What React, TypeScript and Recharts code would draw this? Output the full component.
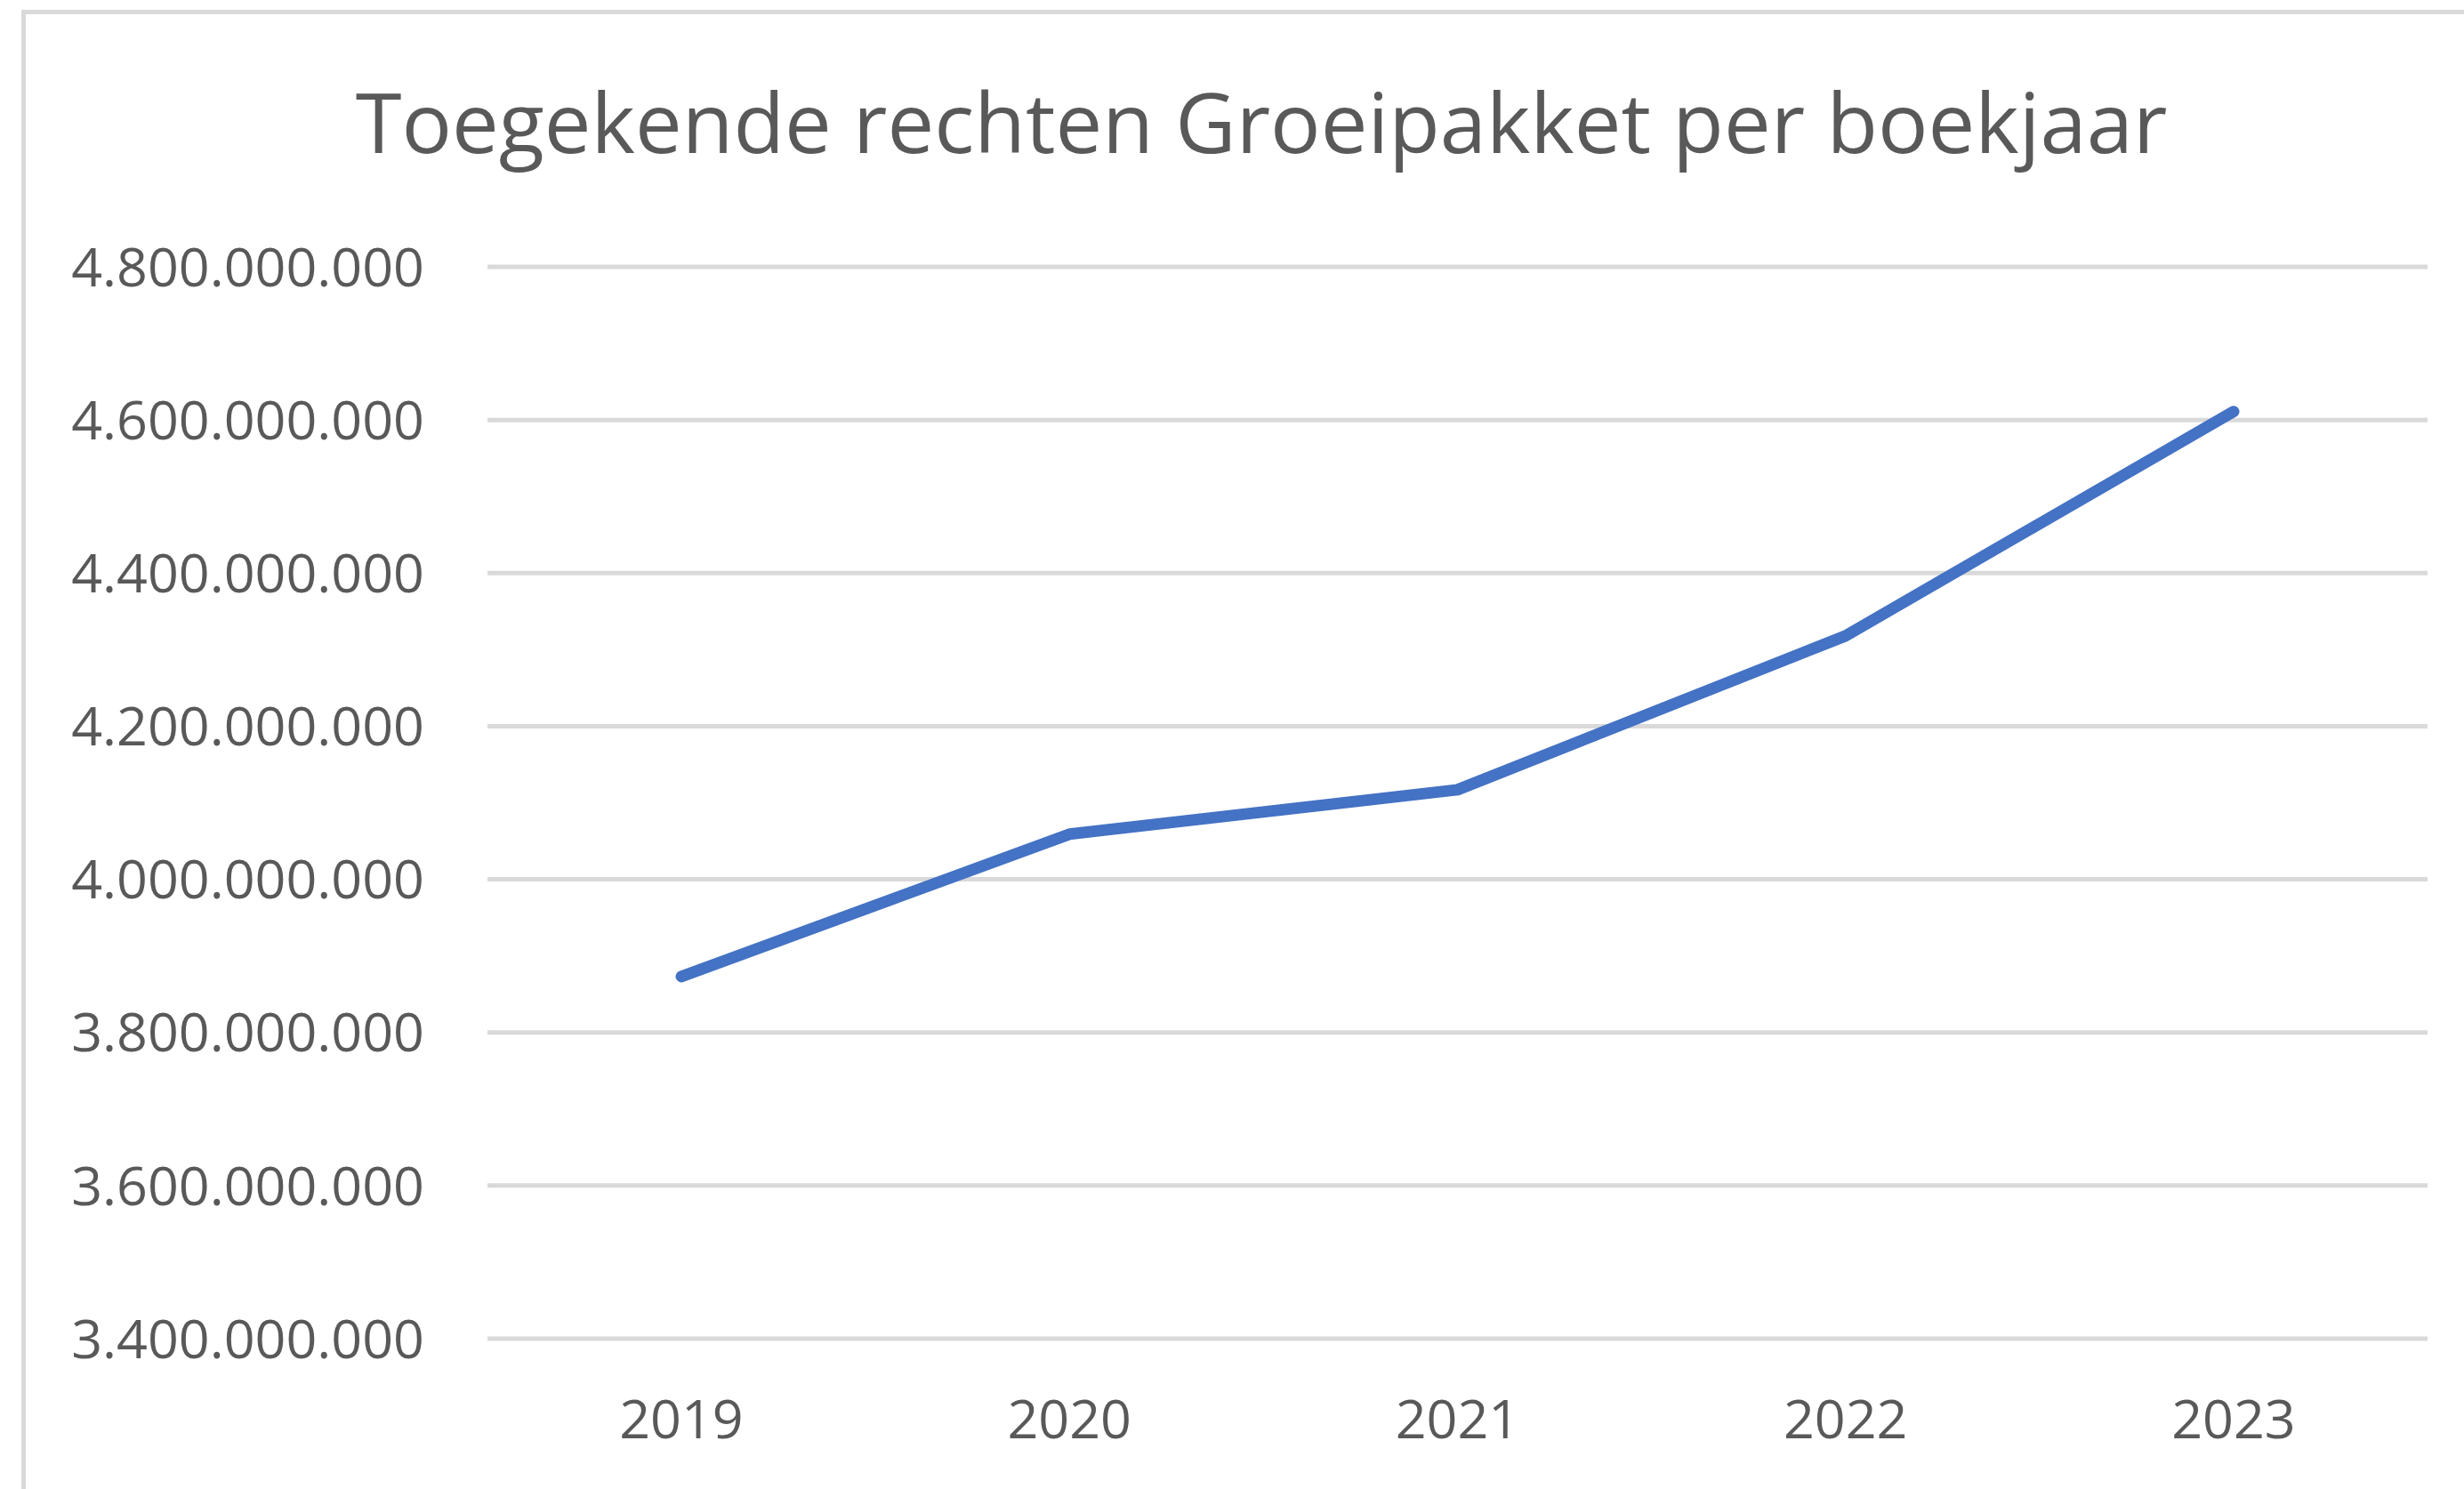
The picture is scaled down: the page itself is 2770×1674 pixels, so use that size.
import { LineChart, Line, XAxis, YAxis, CartesianGrid } from 'recharts';

const years = ['2019', '2020', '2021', '2022', '2023'];
const rechten = [3873000000, 4059000000, 4117000000, 4318000000, 4611000000];
const yTicks = [3400000000, 3600000000, 3800000000, 4000000000, 4200000000, 4400000000, 4600000000, 4800000000];

const data = years.map((year, i) => ({ year, value: rechten[i] }));

const fmt = (v: number) => String(v).replace(/\B(?=(\d{3})+(?!\d))/g, '.');

const FONT = '"Open Sans", sans-serif';
const GREY = '#595959';

const App = () => {
  return (
    <div style={{ position: 'absolute', left: 0, top: 0, width: 2770, height: 1674, overflow: 'hidden', background: '#fff' }}>
      <div
        style={{
          position: 'absolute',
          left: 24,
          top: 11,
          width: 2900,
          height: 1800,
          border: '5px solid #d9d9d9',
        }}
      />
      <div
        style={{
          position: 'absolute',
          left: 0,
          top: 89,
          width: 2836,
          textAlign: 'center',
          fontFamily: FONT,
          fontSize: 94,
          lineHeight: 1,
          color: GREY,
          whiteSpace: 'nowrap',
        }}
      >
        Toegekende rechten Groeipakket per boekjaar
      </div>
      <div style={{ position: 'absolute', left: 0, top: 0 }}>
        <LineChart width={2770} height={1674} data={data} margin={{ top: 300, right: 41, bottom: 0, left: 0 }}>
          <CartesianGrid vertical={false} stroke="#d9d9d9" strokeWidth={5} />
          <XAxis
            dataKey="year"
            axisLine={false}
            tickLine={false}
            tickSize={0}
            tickMargin={69}
            padding={{ left: 218, right: 218 }}
            tick={{ fill: GREY, fontSize: 61, fontFamily: FONT }}
            height={169}
          />
          <YAxis
            domain={[3400000000, 4800000000]}
            ticks={yTicks}
            tickFormatter={fmt}
            axisLine={false}
            tickLine={false}
            tickSize={0}
            tickMargin={71}
            width={548}
            tick={{ fill: GREY, fontSize: 61, fontFamily: FONT }}
          />
          <Line
            type="linear"
            dataKey="value"
            stroke="#4472c4"
            strokeWidth={13}
            strokeLinecap="round"
            strokeLinejoin="round"
            dot={false}
            activeDot={false}
            isAnimationActive={false}
          />
        </LineChart>
      </div>
    </div>
  );
};

export default App;
